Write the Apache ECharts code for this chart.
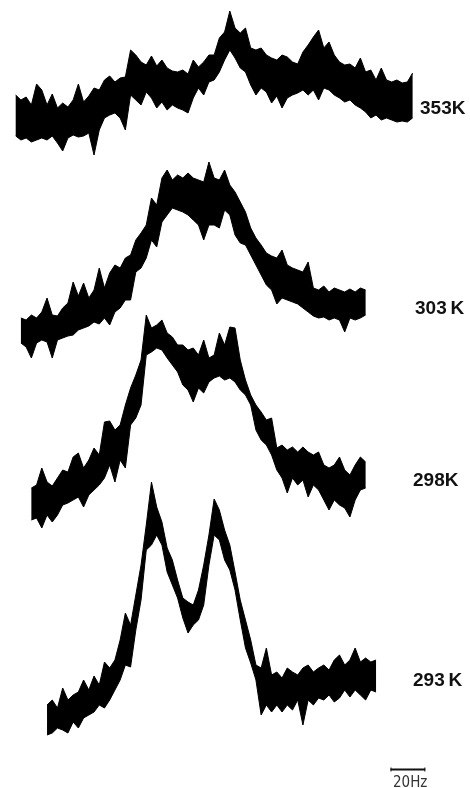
<!DOCTYPE html>
<html><head><meta charset="utf-8">
<script src="https://cdn.jsdelivr.net/npm/echarts@6/dist/echarts.min.js"></script>
<style>html,body{margin:0;padding:0;background:#fff}#c{width:470px;height:788px}</style>
</head><body><div id="c"></div>
<script>
// Frequency samples (Hz) shared by all spectra
const freq = [9,12,15,18,21,24,27,30,33,36,39,42,45,48,51,54,57,60,63,66,69,72,75,78,81,84,87,90,93,96,99,102,105,108,111,114,117,120,123,126,129,132,135,138,141,144,147,150,153,156,159,162,165,168,171,174,177,180,183,186,189,192,195,198,201,204,207,210,213,216,219,222,225,228,231,234,237];

const traceLabels = ['353K', '303\u2009K', '298K', '293\u2009K'];
const traceStartHz = [9, 12, 18, 27];

// upper / lower edges of the noisy signal band (arbitrary intensity units)
const hi353 = [52.5,50,51.5,47.5,58,55,47.5,53,46,48.5,46.5,50,58,49,52,56,55,60,62,59,61,61.5,75,72.5,69,67.5,72,67,70,66,64.5,64,65,63,70,66.5,69,72.5,72.5,81,84,94.5,86,83.5,86,76,75,76,72.5,71,70,72.5,71.5,69,68,74,77.5,81.5,85,76,79,72.5,69,67.5,68,66,71,64,65,60,66,60,59,60,58.5,59,63.5];
const lo353 = [32,30,31,29,30,31,30,32,28.5,24.5,31,32.5,31.5,32,33.5,22.5,35,41,42.5,43.5,41,35,52.5,50,47.5,54,51,46,49,45,47.5,46,45,43.5,51,56,52.5,59,60,64,70,75,71,66,64,57.5,52.5,56,54,48.5,52,46,51,52.5,53.5,55,52.5,55,50,56,55,52.5,51,49,50,47.5,46,44,41,42.5,40,41,40,39,39.5,39,41];

const hi303 = [21,20,22.5,21,24,31,22.5,22,26,28.5,39,32,38.5,31,35,46,36,43.5,47.5,46,51,52.5,60,63.5,67.5,81,77.5,91,95,90,92.5,91,93.5,91,90,89,99,91,90,95,87.5,84,79,74,66,61,57.5,53.5,52,51,55,47.5,46,45,44,49,36,35,37,34,36,35,34,35.5,34,36,35];
const lo303 = [8.5,6.5,1,8.5,10,9,1,10,11,12,12.5,15,16,17,19,18,21,17.5,24,26,30,30,44,46,51,60,56.5,69,72.5,76,75,74,72.5,70,67.5,60,67.5,67.5,66,75,72.5,62.5,58.5,57.5,52.5,47.5,42.5,37.5,35,28,31,30,29,28,26,24,22,21,21.5,20,21,20,14,21,20,21,22.5];

const hi298 = [21,22.5,31,24,22,26,30,29,36.5,38.5,31,35,41,37.5,54,54.5,50,52.5,62.5,71,77.5,85,107.5,101,102.5,105,98.5,96.5,92.5,92.5,90,91,87.5,95,86,87.5,98.5,92.5,101.5,101,85,75,67.5,62.5,59,55,56,41,42.5,40,41.5,39,41.5,39,37.5,39,32.5,31,32.5,36.5,30,27.5,32.5,36.5,34];
const lo298 = [5,6,1,7.5,4,7.5,12.5,13.5,15,16.5,11.5,17.5,20,22.5,26,32.5,24,35,31,52.5,56,62.5,87.5,89,91,90,86,82.5,79,72.5,70,64,71,68.5,74,76,77,75,76,74,70,67.5,62.5,50,45,42.5,37.5,30,26,18.5,26,22.5,25,16.5,22.5,20,15,10,15,12.5,11,6.5,15,20,21];

const hi293 = [22.5,25,21,31,25,27.5,29,35,30,37,32.5,44,41,45,55,68.5,62.5,77.5,92.5,112.5,134,121.5,114,101,95,85,76,74,72.5,80,92.5,107.5,125.5,120,110,102.5,89,75,65,55,42.5,41,51,37.5,39,36,41,39,37.5,41,42.5,39,41,42.5,40,45,47.5,42.5,45,51,44,46,44,45];
const lo293 = [7.5,8.5,11,10,8.5,14,11,16,17.5,19,22.5,21,25,30,35,42.5,41.5,60,75,100,102.5,107.5,102.5,89,82.5,76,66,58.5,62.5,65,72.5,92.5,107.5,105,95,90,80,65,51,43.5,35,17.5,22.5,19,22.5,19,22.5,20,25,12.5,25,22.5,26,25,27.5,24,26,30,26.5,30,27.5,25,30,29];

const scaleBarHz = 20;
const scaleBarText = '20Hz';

// ---------- layout ----------
const gridLeft = 15.7, gridRight = 57.4, W = 470;
const layouts = [
  {top: 0,   height: 200, ymax: 100, label: [420, 110]},
  {top: 160, height: 200, ymax: 100, label: [415, 310]},
  {top: 330, height: 200, ymax: 100, label: [413, 482]},
  {top: 470, height: 280, ymax: 140, label: [413, 682]}
];
const his = [hi353, hi303, hi298, hi293];
const los = [lo353, lo303, lo298, lo293];

function pad(arr, startHz) {
  const i0 = freq.indexOf(startHz);
  const out = new Array(freq.length).fill(null);
  arr.forEach((v, k) => { out[i0 + k] = v; });
  return out;
}

const grid = [], xAxis = [], yAxis = [], series = [];
layouts.forEach((L, i) => {
  grid.push({left: gridLeft, right: gridRight, top: L.top, height: L.height});
  xAxis.push({type: 'category', gridIndex: i, data: freq, boundaryGap: false, show: false});
  yAxis.push({type: 'value', gridIndex: i, min: 0, max: L.ymax, show: false});
  const lo = pad(los[i], traceStartHz[i]);
  const hi = pad(his[i], traceStartHz[i]);
  const band = hi.map((v, k) => v == null ? null : v - lo[k]);
  series.push({
    type: 'line', xAxisIndex: i, yAxisIndex: i, stack: 's' + i, data: lo,
    symbol: 'none', clip: false, silent: true,
    lineStyle: {color: '#000', width: 1}
  });
  series.push({
    type: 'line', xAxisIndex: i, yAxisIndex: i, stack: 's' + i, data: band,
    symbol: 'none', clip: false, silent: true,
    lineStyle: {color: '#000', width: 1},
    areaStyle: {color: '#000', opacity: 1}
  });
});

const pxPerHz = (W - gridLeft - gridRight) / (freq[freq.length - 1] - freq[0]);
const barLen = scaleBarHz * pxPerHz;
const barX = 388, barY = 767;

const graphic = layouts.map((L, i) => ({
  type: 'text', left: L.label[0], top: L.label[1] - 11,
  style: {text: traceLabels[i], fill: '#111', font: 'bold 19px "Liberation Sans", Arial, sans-serif'}
}));
graphic.push({
  type: 'group', left: barX, top: barY - 2,
  children: [
    {type: 'line', shape: {x1: 0, y1: 2, x2: barLen, y2: 2}, style: {stroke: '#111', lineWidth: 2}},
    {type: 'line', shape: {x1: 0.5, y1: 0, x2: 0.5, y2: 4}, style: {stroke: '#111', lineWidth: 1}},
    {type: 'line', shape: {x1: barLen - 0.5, y1: 0, x2: barLen - 0.5, y2: 4}, style: {stroke: '#111', lineWidth: 1}}
  ]
});
graphic.push({
  type: 'text', left: barX + 5, top: barY + 9,
  style: {text: scaleBarText, fill: '#333', font: '15px "Liberation Sans Narrow", "DejaVu Sans Condensed", sans-serif'}
});

const chart = echarts.init(document.getElementById('c'), null, {renderer: 'canvas'});
chart.setOption({
  animation: false,
  backgroundColor: '#fff',
  grid, xAxis, yAxis, series, graphic
});
</script>
</body></html>
